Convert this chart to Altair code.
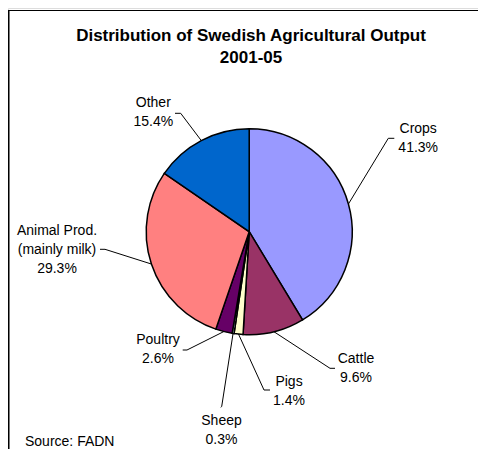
import math
import altair as alt
import pandas as pd

# ---- data ----
categories = ["Crops", "Cattle", "Pigs", "Sheep", "Poultry", "Animal Prod.", "Other"]
name_lines = [["Crops"], ["Cattle"], ["Pigs"], ["Sheep"], ["Poultry"],
              ["Animal Prod.", "(mainly milk)"], ["Other"]]
shares = [41.3, 9.6, 1.4, 0.3, 2.6, 29.3, 15.4]
colors = ["#9999FF", "#993366", "#FFFFCC", "#CCFFFF", "#660066", "#FF8080", "#0066CC"]
title_lines = ["Distribution of Swedish Agricultural Output", "2001-05"]
source_text = "Source: FADN"

# ---- layout (chart pixel coordinates) ----
W, H = 470, 441
CX, CY, R = 241.2, 223.7, 103
LINE_GAP = 19
# label block: centre x, y of first line
label_pos = {
    "Crops": (410.2, 120.5),
    "Cattle": (348.0, 350.8),
    "Pigs": (281.0, 373.6),
    "Sheep": (213.5, 412.8),
    "Poultry": (150.0, 332.0),
    "Animal Prod.": (49.0, 223.3),
    "Other": (145.3, 95.0),
}
# leader line elbow and end points
leader_pts = {
    "Crops": [(380.3, 130.3), (386.3, 130.3)],
    "Cattle": [(322.0, 360.3), (327.0, 360.3)],
    "Pigs": [(256.0, 382.0), (262.0, 382.0)],
    "Sheep": [(213.7, 398.5), (212.7, 399.3)],
    "Poultry": [(179.0, 342.0), (174.7, 342.0)],
    "Animal Prod.": [(97.0, 241.3), (92.0, 241.3)],
    "Other": [(172.7, 105.3), (167.0, 105.3)],
}

total = sum(shares)
pie_df = pd.DataFrame({"cat": categories, "share": shares, "idx": list(range(len(shares)))})

# labels table
lab_rows = []
for c, lines, v in zip(categories, name_lines, shares):
    x0, y0 = label_pos[c]
    for i, t in enumerate(lines + [f"{v:.1f}%"]):
        lab_rows.append({"t": t, "px": x0, "py": y0 + i * LINE_GAP})
lab_df = pd.DataFrame(lab_rows)

# leader lines: start at the arc midpoint of each slice
lead_rows = []
cum = 0.0
for c, v in zip(categories, shares):
    mid = (cum + v / 2) / total * 2 * math.pi
    cum += v
    sx, sy = CX + R * math.sin(mid), CY - R * math.cos(mid)
    pts = [(sx, sy)] + leader_pts[c]
    for k, (x, y) in enumerate(pts):
        lead_rows.append({"cat": c, "k": k, "px": x, "py": y})
lead_df = pd.DataFrame(lead_rows)

pie = alt.Chart(pie_df).mark_arc(outerRadius=R, stroke="black", strokeWidth=1.5).encode(
    theta=alt.Theta("share:Q", stack=True),
    order=alt.Order("idx:Q"),
    color=alt.Color("cat:N", scale=alt.Scale(domain=categories, range=colors), legend=None),
    x=alt.value(CX),
    y=alt.value(CY),
)

leaders = alt.Chart(lead_df).mark_line(color="black", strokeWidth=1).encode(
    x=alt.X("px:Q", scale=None, axis=None),
    y=alt.Y("py:Q", scale=None, axis=None),
    detail="cat:N",
    order="k:Q",
)

labels = alt.Chart(lab_df).mark_text(
    font="Liberation Sans", fontSize=14, align="center", baseline="middle", color="black"
).encode(
    x=alt.X("px:Q", scale=None, axis=None),
    y=alt.Y("py:Q", scale=None, axis=None),
    text="t:N",
)

title_df = pd.DataFrame({"t": title_lines, "px": [243.0, 243.0], "py": [28.0, 50.0]})
title = alt.Chart(title_df).mark_text(
    font="Liberation Sans", fontSize=17, fontWeight="bold", align="center", baseline="middle", color="black"
).encode(
    x=alt.X("px:Q", scale=None, axis=None),
    y=alt.Y("py:Q", scale=None, axis=None),
    text="t:N",
)

src_df = pd.DataFrame({"t": [source_text], "px": [17.0], "py": [434.0]})
source = alt.Chart(src_df).mark_text(
    font="Liberation Sans", fontSize=14, align="left", baseline="middle", color="black"
).encode(
    x=alt.X("px:Q", scale=None, axis=None),
    y=alt.Y("py:Q", scale=None, axis=None),
    text="t:N",
)

frame_left = alt.Chart(pie_df).mark_rule(color="black", strokeWidth=1.2).encode(
    x=alt.value(0.5), y=alt.value(2.5), y2=alt.value(H)
)
frame_top = alt.Chart(pie_df).mark_rule(color="black", strokeWidth=1.2).encode(
    x=alt.value(0), x2=alt.value(W), y=alt.value(2.5)
)

chart = alt.layer(frame_left, frame_top, pie, leaders, labels, title, source).properties(
    width=W, height=H, padding=0, autosize=alt.AutoSizeParams(type="none")
).configure_view(stroke=None).configure(background="white")

chart.save("out.html", embed_options={"renderer": "svg", "actions": False})
